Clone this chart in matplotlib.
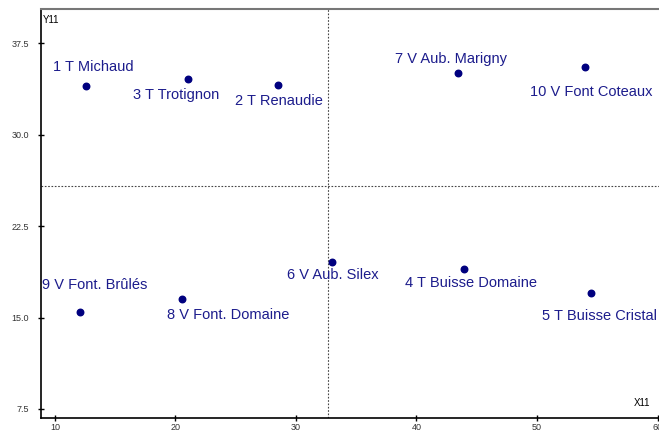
import matplotlib.pyplot as plt

plt.rcParams['font.family'] = ['Liberation Sans', 'DejaVu Sans']

labels = ['1 T Michaud', '3 T Trotignon', '2 T Renaudie', '7 V Aub. Marigny',
          '10 V Font Coteaux', '6 V Aub. Silex', '4 T Buisse Domaine',
          '5 T Buisse Cristal', '8 V Font. Domaine', '9 V Font. Brûlés']
x11 = [12.57, 21.05, 28.5, 43.47, 53.95, 33.0, 43.97, 54.45, 20.55, 12.08]
y11 = [33.98, 34.55, 34.06, 35.04, 35.53, 19.55, 18.98, 17.0, 16.52, 15.45]
# label offsets in pixels (dx, dy), relative to the point
offsets = [(7, 19), (-12, -16), (1, -16), (-7, 14), (7, -25), (1, -13),
           (7, -14), (9, -23), (46, -16), (15, 27)]

x_mean = 32.67
y_mean = 25.78

fig = plt.figure(figsize=(6.59, 4.32), dpi=100)
ax = fig.add_axes([41 / 659, 14 / 432, 619 / 659, 409 / 432])

ax.scatter(x11, y11, s=22, color='#00007f', zorder=3)
for lab, xx, yy, (dx, dy) in zip(labels, x11, y11, offsets):
    ax.annotate(lab, (xx, yy), xytext=(dx, dy), textcoords='offset pixels',
                ha='center', va='center', fontsize=10.5, color='#1c1c8c')

ax.axvline(x_mean, color='#444444', lw=0.8, ls=(0, (1.5, 1.5)))
ax.axhline(y_mean, color='#444444', lw=0.8, ls=(0, (1.5, 1.5)))

ax.set_xlim(8.85, 60.2)
ax.set_ylim(6.76, 40.3)
ax.set_xticks([10, 20, 30, 40, 50, 60])
ax.set_yticks([7.5, 15.0, 22.5, 30.0, 37.5])
ax.set_yticklabels(['7.5', '15.0', '22.5', '30.0', '37.5'])
ax.tick_params(direction='inout', length=5, width=1, labelsize=6.5,
               labelcolor='#333333')
ax.tick_params(axis='x', pad=1)
ax.tick_params(axis='y', pad=6)

ax.spines['right'].set_visible(False)
ax.spines['top'].set_color('#777777')
ax.spines['top'].set_linewidth(1.5)
ax.spines['left'].set_linewidth(1.2)
ax.spines['bottom'].set_linewidth(1.2)

ax.text(0.003, 0.985, 'Y11', transform=ax.transAxes, fontsize=7, va='top', ha='left')
ax.text(0.985, 0.025, 'X11', transform=ax.transAxes, fontsize=7, va='bottom', ha='right')

fig.savefig('out.png', dpi=100)
